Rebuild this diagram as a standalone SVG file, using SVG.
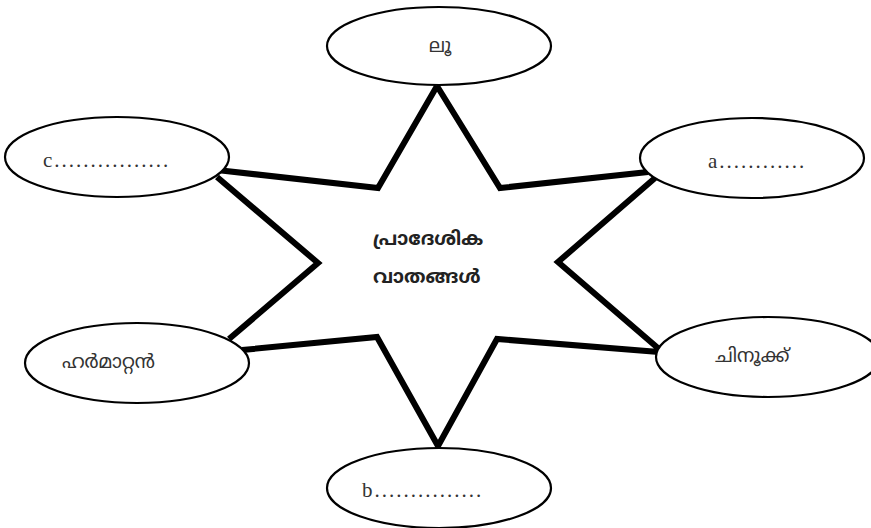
<svg xmlns="http://www.w3.org/2000/svg" width="871" height="528" viewBox="0 0 871 528">
<style>
.bg{fill:#ffffff}
.star{fill:none;stroke:#000;stroke-width:6;stroke-linejoin:miter;stroke-miterlimit:10}
.node ellipse{fill:#fff;stroke:#000;stroke-width:2.2}
.lat{font-family:"Liberation Serif",serif;font-size:21px;letter-spacing:2px;fill:#333}
.ml{font-family:"Noto Sans Malayalam","Noto Sans",sans-serif;font-size:19px;fill:#333}
.mlb{font-family:"Noto Sans Malayalam","Noto Sans",sans-serif;font-size:19px;font-weight:bold;fill:#222}
</style>
<rect class="bg" x="0" y="0" width="871" height="528"/>
<g id="connectors">
<path class="star" d="M437,86 L500,188 L648,172 M655,178 L558,262 L659,349 M659,352 L497,339 L438,446 L377,337 L242,350 M229,339 L318,263 L217,177 M217,170 L378,188 L437,86"/>
</g>
<g id="center">
<text class="mlb" x="373" y="245">പ്രാദേശിക</text>
<text class="mlb" x="373" y="283">വാതങ്ങൾ</text>
</g>
<g id="node-top" class="node">
<ellipse cx="439" cy="46" rx="112" ry="39"/>
<text class="ml" x="440" y="52" text-anchor="middle">ലൂ</text>
</g>
<g id="node-a" class="node">
<ellipse cx="752" cy="158" rx="112" ry="40"/>
<text class="lat" x="708" y="168">a............</text>
</g>
<g id="node-chinook" class="node">
<ellipse cx="768" cy="357" rx="112" ry="40"/>
<text class="ml" x="715" y="362">ചിനൂക്ക്</text>
</g>
<g id="node-b" class="node">
<ellipse cx="439" cy="488" rx="112" ry="40"/>
<text class="lat" x="362" y="497">b...............</text>
</g>
<g id="node-harmattan" class="node">
<ellipse cx="137" cy="363" rx="112" ry="40"/>
<text class="ml" x="62" y="368">ഹർമാറ്റൻ</text>
</g>
<g id="node-c" class="node">
<ellipse cx="117" cy="157" rx="112" ry="40"/>
<text class="lat" x="43" y="167">c................</text>
</g>
</svg>
